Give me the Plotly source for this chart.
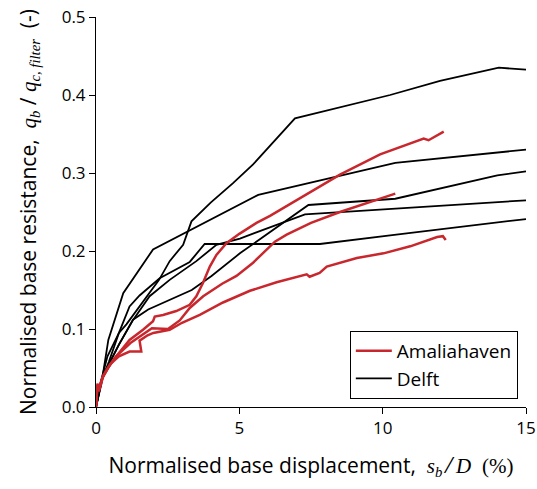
import plotly.graph_objects as go

# Delft (black) curves
d1_x = [0, 0.15, 0.4, 0.8, 1.06, 1.52, 2.2, 2.57, 3.04, 3.33, 4.0, 4.78, 5.48, 6.94, 10.26, 12.0, 14.05, 15.0]
d1_y = [0, 0.03, 0.065, 0.095, 0.106, 0.129, 0.163, 0.187, 0.208, 0.238, 0.262, 0.287, 0.311, 0.370, 0.400, 0.418, 0.435, 0.4325]
d2_x = [0, 0.19, 0.43, 0.95, 1.99, 5.66, 10.44, 15.0]
d2_y = [0, 0.03, 0.086, 0.146, 0.202, 0.272, 0.313, 0.330]
d3_x = [0, 0.2, 0.45, 0.8, 1.29, 1.82, 3.34, 4.03, 5.02, 7.41, 10.44, 14.0, 15.0]
d3_y = [0, 0.035, 0.055, 0.08, 0.112, 0.125, 0.150, 0.168, 0.197, 0.259, 0.267, 0.297, 0.302]
d4_x = [0, 0.2, 0.45, 0.8, 1.3, 1.87, 2.57, 3.5, 4.2, 5.02, 7.29, 10.26, 15.0]
d4_y = [0, 0.035, 0.055, 0.08, 0.112, 0.142, 0.163, 0.187, 0.208, 0.216, 0.247, 0.254, 0.265]
d5_x = [0, 0.2, 0.45, 0.8, 1.17, 1.52, 2.22, 3.27, 3.79, 7.81, 10.26, 15.0]
d5_y = [0, 0.035, 0.058, 0.095, 0.129, 0.143, 0.165, 0.186, 0.209, 0.209, 0.220, 0.241]

# Amaliahaven (red) curves
r1_x = [0, 0.05, 0.1, 0.24, 0.45, 0.71, 1.17, 1.64, 1.99, 2.05, 2.34, 2.8, 3.27, 3.5, 3.73, 3.97, 4.2, 4.55, 5.0, 5.6, 6.07, 7.0, 8.51, 9.91, 11.43, 11.6, 12.13]
r1_y = [0, 0.028, 0.022, 0.039, 0.052, 0.065, 0.086, 0.099, 0.110, 0.116, 0.118, 0.123, 0.131, 0.142, 0.159, 0.180, 0.195, 0.210, 0.222, 0.236, 0.245, 0.265, 0.298, 0.324, 0.344, 0.342, 0.353]
r2_x = [0, 0.05, 0.1, 0.24, 0.45, 0.7, 1.2, 1.6, 1.95, 2.51, 2.92, 3.27, 3.74, 4.4, 4.9, 5.48, 5.83, 6.24, 6.65, 7.5, 8.51, 9.5, 10.44]
r2_y = [0, 0.026, 0.02, 0.038, 0.052, 0.065, 0.082, 0.092, 0.101, 0.100, 0.111, 0.127, 0.142, 0.158, 0.168, 0.185, 0.197, 0.212, 0.221, 0.236, 0.250, 0.262, 0.2735]
r3_x = [0, 0.05, 0.1, 0.25, 0.5, 0.8, 1.17, 1.58, 1.52, 1.8, 2.0, 2.57, 3.0, 3.62, 4.43, 5.37, 6.3, 7.0, 7.35, 7.45, 7.64, 7.8, 8.05, 9.1, 10.03, 10.96, 11.9, 12.1, 12.2]
r3_y = [0, 0.03, 0.024, 0.04, 0.055, 0.065, 0.071, 0.071, 0.085, 0.092, 0.095, 0.099, 0.108, 0.118, 0.134, 0.149, 0.160, 0.167, 0.170, 0.167, 0.170, 0.172, 0.180, 0.191, 0.197, 0.206, 0.218, 0.219, 0.214]

x_ticks = [0, 5, 10, 15]
y_ticks = [0.0, 0.1, 0.2, 0.3, 0.4, 0.5]

RED = "#c8282d"
BLACK = "#000000"
FONT = "Open Sans"
SERIF = "font-family:'Liberation Serif'"


def m(txt):
    return f"<span style=\"{SERIF}\"><i>{txt}</i></span>"


x_title = ("Normalised base displacement,  " + m("s") + "<sub>" + m("b") + "</sub>"
           + " ⁄ " + m("D") + "  <span style=\"" + SERIF + "\">(%)</span>")
y_title = ("Normalised base resistance,  " + m("q") + "<sub>" + m("b") + "</sub>"
           + " / " + m("q") + "<sub>" + m("c, filter") + "</sub>  (-)")

fig = go.Figure()
red_sets = [(r1_x, r1_y), (r2_x, r2_y), (r3_x, r3_y)]
black_sets = [(d1_x, d1_y), (d2_x, d2_y), (d3_x, d3_y), (d4_x, d4_y), (d5_x, d5_y)]

for i, (xs, ys) in enumerate(black_sets):
    fig.add_trace(go.Scatter(x=xs, y=ys, mode="lines", line=dict(color=BLACK, width=1.8),
                             name="Delft", legendgroup="d", showlegend=(i == 0), legendrank=2))
for i, (xs, ys) in enumerate(red_sets):
    fig.add_trace(go.Scatter(x=xs, y=ys, mode="lines", line=dict(color=RED, width=2.5),
                             name="Amaliahaven", legendgroup="a", showlegend=(i == 0), legendrank=1))

fig.update_layout(
    width=537, height=489,
    margin=dict(l=96, r=11, t=17, b=82, autoexpand=False),
    paper_bgcolor="white", plot_bgcolor="white",
    font=dict(family=FONT, size=17, color="black"),
    showlegend=True,
    legend=dict(x=0.981, y=0.021, xanchor="right", yanchor="bottom",
                bordercolor="black", borderwidth=1, bgcolor="white",
                font=dict(size=19), tracegroupgap=0, itemwidth=36),
    xaxis=dict(range=[0, 15], tickvals=x_ticks, ticktext=[str(v) for v in x_ticks],
               showline=True, linecolor="black", linewidth=1, ticks="outside",
               ticklen=6, tickcolor="black", showgrid=False, zeroline=False,
               automargin=False,
               title=dict(text=x_title, standoff=19, font=dict(size=21))),
    yaxis=dict(range=[0, 0.5], tickvals=y_ticks, ticktext=[f"{v:.1f}" for v in y_ticks],
               showline=True, linecolor="black", linewidth=1, ticks="outside",
               ticklen=6, tickcolor="black", showgrid=False, zeroline=False,
               automargin=False,
               title=dict(text=y_title, standoff=19, font=dict(size=21))),
)

fig.write_html("out.html")
